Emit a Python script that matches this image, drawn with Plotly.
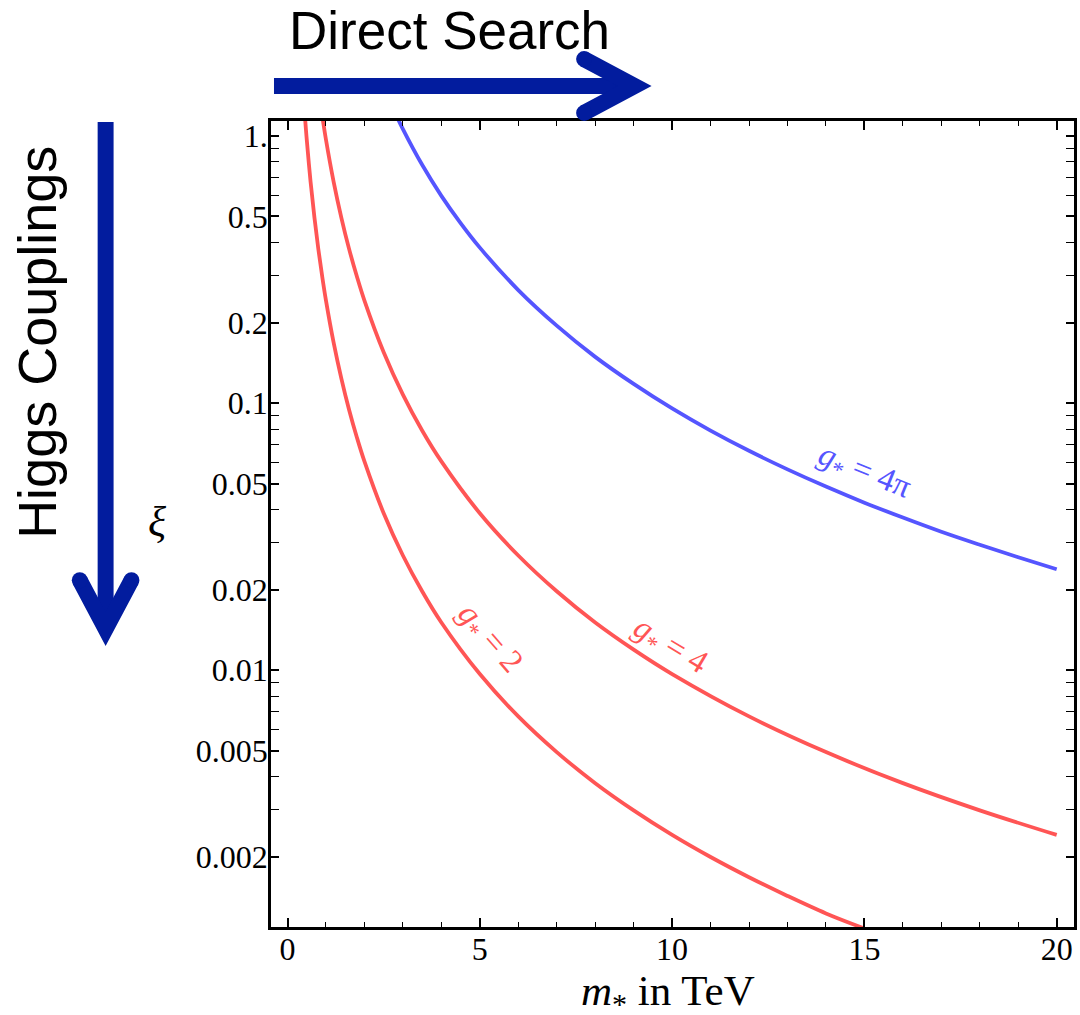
import plotly.graph_objects as go
import math

# ---------------- data ----------------
m_g2 = [0.44, 0.5, 0.6, 0.7, 0.8, 0.9, 1.0, 1.2, 1.4, 1.6, 1.8, 2.0, 2.5, 3.0, 3.5, 4.0,
        5.0, 6.0, 7.0, 8.0, 9.0, 10, 11, 12, 13, 14, 15]
xi_g2 = [1.25, 0.968, 0.672, 0.494, 0.378, 0.299, 0.242, 0.168, 0.1235, 0.0945, 0.0747, 0.0605,
         0.0387, 0.0269, 0.01976, 0.0151, 0.00968, 0.00672, 0.00494, 0.00378, 0.00299, 0.00242,
         0.0020, 0.00168, 0.00143, 0.00123, 0.00108]

m_g4 = [0.88, 1.0, 1.2, 1.4, 1.6, 1.8, 2.0, 2.5, 3.0, 3.5, 4.0, 5.0, 6.0, 7.0, 8.0, 9.0,
        10, 12, 14, 16, 18, 20]
xi_g4 = [1.25, 0.968, 0.672, 0.494, 0.378, 0.299, 0.242, 0.155, 0.1076, 0.079, 0.0605, 0.0387,
         0.0269, 0.01976, 0.0151, 0.01195, 0.00968, 0.00672, 0.00494, 0.00378, 0.00299, 0.00242]

m_g4pi = [2.76, 3.0, 3.5, 4.0, 4.5, 5.0, 6.0, 7.0, 8.0, 9.0, 10, 11, 12, 13, 14, 15, 16, 17,
          18, 19, 20]
xi_g4pi = [1.254, 1.061, 0.780, 0.597, 0.472, 0.382, 0.265, 0.195, 0.149, 0.118, 0.0955, 0.0789,
           0.0663, 0.0565, 0.0487, 0.0424, 0.0373, 0.0330, 0.0295, 0.0265, 0.0239]

y_tickvals = [1, 0.5, 0.2, 0.1, 0.05, 0.02, 0.01, 0.005, 0.002]
y_ticktext = ["1.", "0.5", "0.2", "0.1", "0.05", "0.02", "0.01", "0.005", "0.002"]
y_minorvals = [0.9, 0.8, 0.7, 0.6, 0.4, 0.3,
               0.09, 0.08, 0.07, 0.06, 0.04, 0.03,
               0.009, 0.008, 0.007, 0.006, 0.004, 0.003]
x_tickvals = [0, 5, 10, 15, 20]

RED = "#FF5555"
BLUE = "#5555FF"
ARROW = "#021C9E"

W, H = 1080, 1015
L, R, T, B = 271, 1077, 121, 927


def px(xp):
    return (xp - L) / (R - L)


def py(yp):
    return (B - yp) / (B - T)


fig = go.Figure()
for xs, ys, col in [(m_g2, xi_g2, RED), (m_g4, xi_g4, RED), (m_g4pi, xi_g4pi, BLUE)]:
    fig.add_trace(go.Scatter(x=xs, y=ys, mode="lines", line=dict(color=col, width=3.8, shape="spline"),
                             showlegend=False, hoverinfo="skip"))

shapes = []


def chevron(tip, d, back=64, half=34, t=16):
    tx, ty = tip
    dx, dy = d
    nx, ny = -dy, dx
    out = []
    caps = []
    for s in (1, -1):
        ex, ey = tx - back * dx + s * half * nx, ty - back * dy + s * half * ny
        ux, uy = ex - tx, ey - ty
        ln = math.hypot(ux, uy)
        ux, uy = ux / ln, uy / ln
        p1 = (-uy, ux)
        if p1[0] * (-s * nx) + p1[1] * (-s * ny) < 0:
            p1 = (uy, -ux)
        e2x, e2y = ex + t * p1[0], ey + t * p1[1]
        out.append(((ex, ey), (e2x, e2y)))
        caps.append(((ex + e2x) / 2, (ey + e2y) / 2))
    sina = half / math.hypot(back, half)
    notch = (tx - (t / sina) * dx, ty - (t / sina) * dy)
    pts = [tip, out[0][0], out[0][1], notch, out[1][1], out[1][0]]
    path = "M " + " L ".join(f"{px(a):.5f},{py(b):.5f}" for a, b in pts) + " Z"
    shapes.append(dict(type="path", path=path, xref="paper", yref="paper",
                       fillcolor=ARROW, line=dict(width=0), layer="above"))
    r = t / 2
    for cx, cy in caps:
        shapes.append(dict(type="circle", xref="paper", yref="paper",
                           x0=px(cx - r), x1=px(cx + r), y0=py(cy + r), y1=py(cy - r),
                           fillcolor=ARROW, line=dict(width=0)))


# horizontal arrow (Direct Search)
shapes.append(dict(type="rect", xref="paper", yref="paper", x0=px(274), x1=px(630), y0=py(94), y1=py(78),
                   fillcolor=ARROW, line=dict(width=0)))
chevron((653, 86), (1, 0))
# vertical arrow (Higgs Couplings)
shapes.append(dict(type="rect", xref="paper", yref="paper", x0=px(97), x1=px(113), y0=py(630), y1=py(122),
                   fillcolor=ARROW, line=dict(width=0)))
chevron((105, 646), (0, 1), back=62, half=33)

serif = "Liberation Serif"
sans = "Liberation Sans"
annotations = [
    dict(text="Direct Search", x=px(450), y=py(31), xref="paper", yref="paper", showarrow=False,
         font=dict(family=sans, size=53, color="black"), xanchor="center", yanchor="middle"),
    dict(text="Higgs Couplings", x=px(36), y=py(342), xref="paper", yref="paper", showarrow=False,
         textangle=-90, font=dict(family=sans, size=54, color="black"), xanchor="center", yanchor="middle"),
    dict(text="<i>ξ</i>", x=px(157), y=py(522), xref="paper", yref="paper", showarrow=False,
         font=dict(family=serif, size=42, color="black"), xanchor="center", yanchor="middle"),
    dict(text="<i>m</i><sub>*</sub> in TeV", x=px(669), y=py(994), xref="paper", yref="paper",
         showarrow=False, font=dict(family=serif, size=43, color="black"), xanchor="center", yanchor="middle"),
    dict(text="<i>g</i><sub>*</sub> = 4π", x=15.0, y=math.log10(0.055), xref="x", yref="y", showarrow=False,
         textangle=22, font=dict(family=serif, size=33, color=BLUE), xanchor="center", yanchor="middle"),
    dict(text="<i>g</i><sub>*</sub> = 2", x=5.25, y=-1.885, xref="x", yref="y", showarrow=False,
         textangle=49, font=dict(family=serif, size=33, color=RED), xanchor="center", yanchor="middle"),
    dict(text="<i>g</i><sub>*</sub> = 4", x=9.94, y=-1.911, xref="x", yref="y", showarrow=False,
         textangle=31, font=dict(family=serif, size=33, color=RED), xanchor="center", yanchor="middle"),
]

fig.update_layout(
    width=W, height=H,
    margin=dict(l=L, r=W - R, t=T, b=H - B, pad=0),
    paper_bgcolor="white", plot_bgcolor="white",
    shapes=shapes, annotations=annotations,
    xaxis=dict(range=[-0.43, 20.45], tickvals=x_tickvals, ticktext=[str(v) for v in x_tickvals],
               ticks="inside", ticklen=9, tickwidth=1.8, tickcolor="black",
               showline=True, linewidth=2.6, linecolor="black", mirror="ticks",
               showgrid=False, zeroline=False, ticklabelstandoff=-8,
               tickfont=dict(family=serif, size=32, color="black"),
               minor=dict(ticks="inside", dtick=1, tick0=0, ticklen=5, tickwidth=1.4, tickcolor="black",
                          showgrid=False)),
    yaxis=dict(type="log", range=[math.log10(0.001094), math.log10(1.138)],
               tickvals=y_tickvals, ticktext=y_ticktext,
               ticks="inside", ticklen=8, tickwidth=1.6, tickcolor="black",
               showline=True, linewidth=2.6, linecolor="black", mirror="ticks",
               showgrid=False, zeroline=False, ticklabelstandoff=-6,
               tickfont=dict(family=serif, size=32, color="black"),
               minor=dict(ticks="inside", tickvals=y_minorvals, ticklen=8, tickwidth=1.4,
                          tickcolor="black", showgrid=False)),
)

fig.write_html("out.html", config={"displayModeBar": False},
               post_script="document.body.style.margin='0px';")
